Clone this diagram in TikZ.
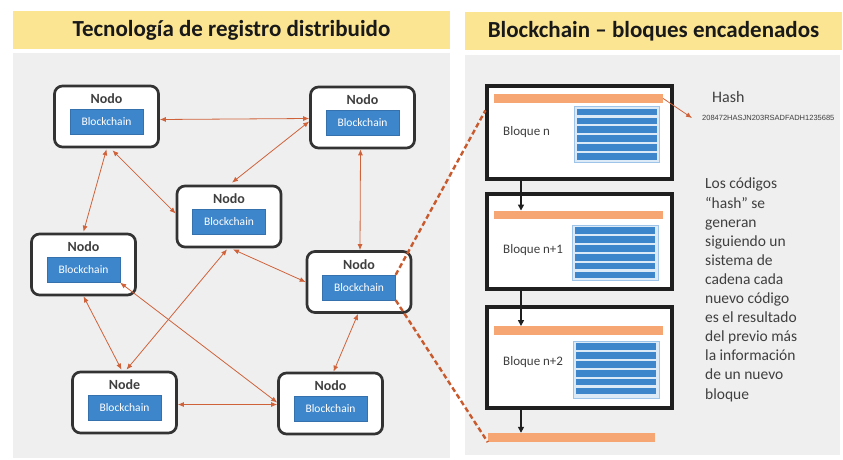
\documentclass[tikz,border=0pt]{standalone}
\usepackage{fontspec}
\setmainfont{Carlito}
\newfontfamily\arialf{Liberation Sans}
\usetikzlibrary{arrows.meta,calc}
\definecolor{ttl}{HTML}{FBE593}
\definecolor{pnl}{HTML}{EFEFEF}
\definecolor{bcblue}{HTML}{3E86CB}
\definecolor{lstbg}{HTML}{DCEAF8}
\definecolor{lstbd}{HTML}{9EC4EA}
\definecolor{arr}{HTML}{D0623A}
\definecolor{dsh}{HTML}{C85A2E}
\definecolor{hbarc}{HTML}{F6A673}
\definecolor{nbd}{HTML}{333333}
\definecolor{txt}{HTML}{3F3F3F}
\newcommand\netnode[4]{%
  \node[nodebox] (#1) at (#2,#3) {};
  \node[nodolbl] (#1t) at ([yshift=-14pt]#1.north) {#4};
  \node[bcbox] (#1b) at ([yshift=-5.5pt]#1.center) {Blockchain};}
\newcommand\blist[5]{%
  \node[listbox,minimum width=#4,minimum height=#5] (#1) at (#2,#3) {};
  \foreach \k in {0,...,5}{
    \fill[bcblue] ([xshift=3pt,yshift=-2.5pt-\k*8.9pt]#1.north west) rectangle ([xshift=-3pt,yshift=-9.2pt-\k*8.9pt]#1.north east);}}
\begin{document}
\begin{tikzpicture}[x=1pt,y=-1pt,
  nodebox/.style={draw=nbd,line width=2.7pt,rounded corners=8pt,fill=white,minimum width=104pt,minimum height=61pt,inner sep=0},
  nodolbl/.style={font=\fontsize{14}{16}\selectfont\bfseries,text=txt,inner sep=0},
  bcbox/.style={fill=bcblue,draw=bcblue!85!black,line width=0.4pt,minimum width=73pt,minimum height=25pt,inner sep=0,text=white,font=\fontsize{11.5}{12}\selectfont},
  link/.style={draw=arr,line width=0.8pt,{Latex[length=6pt,width=5pt]}-{Latex[length=6pt,width=5pt]}},
  dashln/.style={draw=dsh,line width=2.4pt,dash pattern=on 5pt off 3pt},
  titlebar/.style={fill=ttl,inner sep=0,text=black!90,font=\fontsize{23}{26}\selectfont\bfseries},
  panel/.style={fill=pnl,inner sep=0},
  blockbox/.style={draw=black!88,line width=3.2pt,fill=white,minimum width=185pt,inner sep=0},
  hbar/.style={fill=hbarc,inner sep=0,minimum width=169pt,minimum height=8.5pt},
  listbox/.style={fill=lstbg,draw=lstbd,line width=0.8pt,inner sep=0},
  blklbl/.style={anchor=west,inner sep=0,text=txt,font=\fontsize{13}{15}\selectfont},
  blkarr/.style={draw=black!88,line width=1.5pt,-{Triangle[length=6pt,width=6pt]}},
  hasharr/.style={draw=arr,line width=0.8pt,-{Latex[length=6pt,width=5pt]}}
]
\useasboundingbox[fill=white] (0,0) rectangle (843,460);
% panels
\node[titlebar,minimum width=437pt,minimum height=38pt] (T1) at (231.5,30) {Tecnología de registro distribuido};
\node[titlebar,minimum width=377pt,minimum height=38pt] (T2) at (653.5,31) {Blockchain – bloques encadenados};
\node[panel,minimum width=437pt,minimum height=405pt] (P1) at (231.5,255.5) {};
\node[panel,minimum width=375pt,minimum height=400pt] (P2) at (652.5,255) {};
% network nodes
\netnode{A}{106.5}{116.5}{Nodo}
\netnode{B}{362.5}{117.5}{Nodo}
\netnode{C}{229}{216.5}{Nodo}
\netnode{D}{83.5}{264.5}{Nodo}
\netnode{E}{359}{282}{Nodo}
\netnode{F}{124.5}{402.5}{Node}
\netnode{G}{330.5}{403.5}{Nodo}
% links
\draw[link] ([yshift=-3pt]A.east) -- ([yshift=-1pt]B.west);
\draw[link] ([xshift=6pt,yshift=-2pt]A.south) -- ([yshift=3pt]C.west);
\draw[link] ([yshift=-1pt]A.south) -- ([yshift=1pt]D.north);
\draw[link] ([yshift=-4pt]B.west) -- ([xshift=3pt,yshift=2pt]C.north);
\draw[link] ([xshift=-2pt]B.south) -- ([xshift=1pt]E.north);
\draw[link] ([xshift=-2pt,yshift=-1pt]C.south) -- ([xshift=2pt,yshift=1pt]F.north);
\draw[link] ([xshift=4pt,yshift=-1pt]C.south) -- (E.west);
\draw[link] (D.south) -- ([xshift=-3pt,yshift=1pt]F.north);
\draw[link] (Db.south east) -- ([yshift=1pt]G.west);
\draw[link] ([xshift=-1pt]E.south) -- ([xshift=3pt]G.north);
\draw[link] ([yshift=-2pt]F.east) -- ([yshift=-1pt]G.west);
% blocks
\node[blockbox,minimum height=93pt] (Bn) at (579.5,132.5) {};
\node[blockbox,minimum height=95pt] (Bn1) at (579.5,241.5) {};
\node[blockbox,minimum height=101pt] (Bn2) at (579.5,357.5) {};
\node[hbar] (Hn) at (578.5,98.5) {};
\node[hbar] (Hn1) at (578.5,215) {};
\node[hbar] (Hn2) at (578.5,330.5) {};
\node[hbar,minimum width=167pt,minimum height=9pt] (Hb) at (571.5,437.5) {};
\blist{Ln}{617}{134.5}{85pt}{56pt}
\blist{Ln1}{615}{252.5}{86pt}{55pt}
\blist{Ln2}{616}{369.5}{86pt}{57pt}
\node[blklbl] (Lbn) at (503,132) {Bloque n};
\node[blklbl] (Lbn1) at (503,250) {Bloque n+1};
\node[blklbl] (Lbn2) at (503,362) {Bloque n+2};
\draw[blkarr] ([xshift=-58.5pt]Bn.south) -- ([xshift=-57.5pt]Hn1.north);
\draw[blkarr] ([xshift=-58.5pt]Bn1.south) -- ([xshift=-57.5pt]Hn2.north);
\draw[blkarr] ([xshift=-58.5pt]Bn2.south) -- ([xshift=-50.5pt]Hb.north);
% dashed zoom lines
\draw[dashln] (Eb.north east) -- ([yshift=-26pt]Bn.north west);
\draw[dashln] (Eb.south east) -- (Hb.south west);
% hash
\node[anchor=west,inner sep=0,text=txt,font=\fontsize{16}{18}\selectfont] (hash) at (712,97) {Hash};
\node[anchor=west,inner sep=0,text=txt,font=\arialf\fontsize{7.5}{8}\selectfont] (hc) at (702,118) {208472HASJN203RSADFADH1235685};
\draw[hasharr] (Hn.east) -- ([xshift=-10pt]hc.west);
% description
\node[anchor=north west,inner sep=0,align=left,text=txt,font=\fontsize{15.5}{19.1}\selectfont] (desc) at (705,178)
 {Los códigos\\“hash” se\\generan\\siguiendo un\\sistema de\\cadena cada\\nuevo código\\es el resultado\\del previo más\\la información\\de un nuevo\\bloque};
\end{tikzpicture}
\end{document}
